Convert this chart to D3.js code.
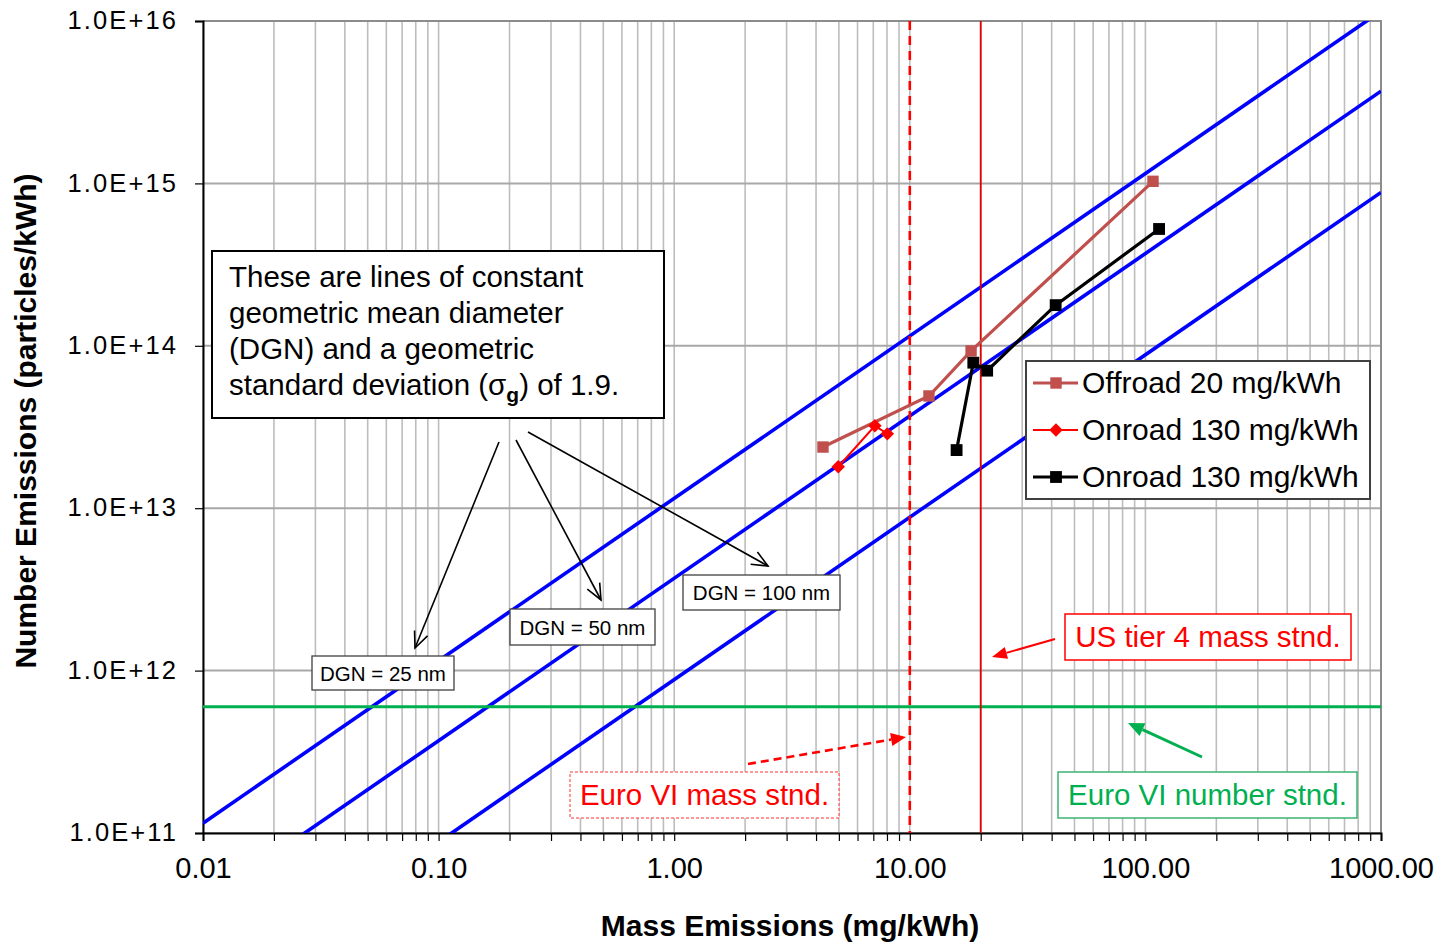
<!DOCTYPE html>
<html><head><meta charset="utf-8">
<script src="https://cdn.jsdelivr.net/npm/d3@7"></script>
<style>
body{margin:0;background:#fff}
text{font-family:"Liberation Sans",Arial,Helvetica,sans-serif}
</style>
</head><body>
<svg id="c" width="1445" height="943"></svg>
<script>
// ---------- DATA ----------
const xTickValues = [0.01, 0.1, 1, 10, 100, 1000];
const xTickLabels = ["0.01", "0.10", "1.00", "10.00", "100.00", "1000.00"];
const yTickValues = [1e11, 1e12, 1e13, 1e14, 1e15, 1e16];
const yTickLabels = ["1.0E+11", "1.0E+12", "1.0E+13", "1.0E+14", "1.0E+15", "1.0E+16"];

const seriesNames = ["Offroad 20 mg/kWh", "Onroad 130 mg/kWh", "Onroad 130 mg/kWh"];
const offroadMass   = [4.28, 12.06, 18.2, 107.7];
const offroadNumber = [2.38e13, 4.91e13, 9.3e13, 1.03e15];
const onroadRedMass   = [4.97, 7.11, 8.03];
const onroadRedNumber = [1.80e13, 3.22e13, 2.87e13];
const onroadBlackMass   = [15.8, 18.6, 21.3, 41.6, 114.3];
const onroadBlackNumber = [2.28e13, 7.87e13, 7.03e13, 1.78e14, 5.24e14];

const dgnLabels = ["DGN = 25 nm", "DGN = 50 nm", "DGN = 100 nm"];
const dgnMassEnds = [0.01, 1000];
const dgn25Number  = [1.15e11, 1.15e16];
const dgn50Number  = [3.7e10, 3.7e15];
const dgn100Number = [8.8e9, 8.8e14];

const euroVIMass = 10;
const usTier4Mass = 20;
const euroVINumber = 6e11;

const noteLines = ["These are lines of constant", "geometric mean diameter", "(DGN) and a geometric"];
const standardLabels = ["US tier 4 mass stnd.", "Euro VI mass stnd.", "Euro VI number stnd."];
const xTitle = "Mass Emissions (mg/kWh)";
const yTitle = "Number Emissions (particles/kWh)";

// ---------- CHART ----------
const svg = d3.select("#c");
const L = 203, R = 1381, T = 21, B = 833;
const x = d3.scaleLog().domain([0.01, 1000]).range([L, R]);
const y = d3.scaleLog().domain([1e11, 1e16]).range([B, T]);

const minorX = [];
for (let e = -2; e < 3; e++) for (let k = 1; k <= 9; k++) minorX.push(k * Math.pow(10, e));
minorX.push(1000);

svg.append("defs").append("clipPath").attr("id", "plotClip")
  .append("rect").attr("x", L).attr("y", T).attr("width", R - L).attr("height", B - T);

// grid
svg.append("g").selectAll("line").data(minorX).join("line")
  .attr("x1", d => x(d)).attr("x2", d => x(d)).attr("y1", T).attr("y2", B)
  .attr("stroke", "#bdbdbd").attr("stroke-width", 1.6);
svg.append("g").selectAll("line").data(yTickValues).join("line")
  .attr("x1", L).attr("x2", R).attr("y1", d => y(d)).attr("y2", d => y(d))
  .attr("stroke", "#a8a8a8").attr("stroke-width", 2);

// border top/right
svg.append("path").attr("d", `M${L},${T}H${R}V${B}`).attr("fill", "none")
  .attr("stroke", "#8c8c8c").attr("stroke-width", 2);

// axes
const xLab = d => { const i = xTickValues.findIndex(v => Math.abs(Math.log10(v) - Math.log10(d)) < 1e-9); return i >= 0 ? xTickLabels[i] : ""; };
const gx = svg.append("g").attr("transform", `translate(0,${B})`)
  .call(d3.axisBottom(x).tickValues(minorX).tickSize(8).tickPadding(16.4).tickFormat(xLab));
gx.select(".domain").attr("stroke", "#000").attr("stroke-width", 2);
gx.selectAll(".tick line").attr("stroke", "#000").attr("stroke-width", 1.2);
gx.selectAll(".tick text").attr("font-size", 29).attr("fill", "#000")
  .attr("font-family", "Liberation Sans, Arial, sans-serif");

const gy = svg.append("g").attr("transform", `translate(${L},0)`)
  .call(d3.axisLeft(y).tickValues(yTickValues).tickSize(8).tickPadding(17)
    .tickFormat(d => yTickLabels[yTickValues.indexOf(d)]));
gy.select(".domain").attr("stroke", "#000").attr("stroke-width", 2);
gy.selectAll(".tick line").attr("stroke", "#000").attr("stroke-width", 1.2);
gy.selectAll(".tick text").attr("font-size", 25.5).attr("letter-spacing", "2.1px").attr("fill", "#000")
  .attr("font-family", "Liberation Sans, Arial, sans-serif").attr("dy", "0.30em");

// titles
svg.append("text").attr("x", 790).attr("y", 936).attr("text-anchor", "middle")
  .attr("font-size", 30).attr("font-weight", "bold").text(xTitle);
svg.append("text").attr("transform", "translate(36,421) rotate(-90)").attr("text-anchor", "middle")
  .attr("font-size", 30).attr("font-weight", "bold").text(yTitle);

const plot = svg.append("g").attr("clip-path", "url(#plotClip)");

// DGN lines
const lineGen = d3.line().x(d => x(d[0])).y(d => y(d[1]));
[dgn25Number, dgn50Number, dgn100Number].forEach(nums => {
  plot.append("path").attr("d", lineGen(dgnMassEnds.map((m, i) => [m, nums[i]])))
    .attr("fill", "none").attr("stroke", "#0000ff").attr("stroke-width", 3.6);
});

// standards
plot.append("line").attr("x1", L).attr("x2", R).attr("y1", y(euroVINumber)).attr("y2", y(euroVINumber))
  .attr("stroke", "#00b050").attr("stroke-width", 3);
plot.append("line").attr("x1", x(euroVIMass)).attr("x2", x(euroVIMass)).attr("y1", T).attr("y2", B)
  .attr("stroke", "#ff0000").attr("stroke-width", 2.6).attr("stroke-dasharray", "9,6");
plot.append("line").attr("x1", x(usTier4Mass)).attr("x2", x(usTier4Mass)).attr("y1", T).attr("y2", B)
  .attr("stroke", "#e00000").attr("stroke-width", 1.8);

// series
function series(mass, num, color, width, shape, size, rot) {
  const pts = mass.map((m, i) => [m, num[i]]);
  plot.append("path").attr("d", lineGen(pts)).attr("fill", "none")
    .attr("stroke", color).attr("stroke-width", width);
  plot.append("g").selectAll("path").data(pts).join("path")
    .attr("transform", d => `translate(${x(d[0])},${y(d[1])}) rotate(${rot || 0})`)
    .attr("d", d3.symbol().type(shape).size(size))
    .attr("fill", color);
}
series(offroadMass, offroadNumber, "#c0504d", 3.2, d3.symbolSquare, 130);
series(onroadRedMass, onroadRedNumber, "#ff0000", 2, d3.symbolSquare, 90, 45);
series(onroadBlackMass, onroadBlackNumber, "#000000", 3.2, d3.symbolSquare, 140);

// arrows
function arrow(x1, y1, x2, y2, o) {
  const a = Math.atan2(y2 - y1, x2 - x1), len = o.size || 14, hw = o.hw || 6;
  const bx = x2 - len * Math.cos(a), by = y2 - len * Math.sin(a);
  const px = -Math.sin(a) * hw, py = Math.cos(a) * hw;
  const ex = o.filled ? bx : x2, ey = o.filled ? by : y2;
  svg.append("line").attr("x1", x1).attr("y1", y1).attr("x2", ex).attr("y2", ey)
    .attr("stroke", o.color).attr("stroke-width", o.width)
    .attr("stroke-dasharray", o.dash || null);
  if (o.filled) {
    svg.append("path").attr("d", `M${x2},${y2}L${bx + px},${by + py}L${bx - px},${by - py}Z`).attr("fill", o.color);
  } else {
    svg.append("path").attr("d", `M${bx + px},${by + py}L${x2},${y2}L${bx - px},${by - py}`)
      .attr("fill", "none").attr("stroke", o.color).attr("stroke-width", o.width);
  }
}
arrow(499, 442, 415, 648, {color: "#000", width: 1.6, size: 16, hw: 7});
arrow(516, 440, 601, 600, {color: "#000", width: 1.6, size: 16, hw: 7});
arrow(528, 432, 768, 566, {color: "#000", width: 1.6, size: 16, hw: 7});
arrow(1055, 639, 992, 657, {color: "#ff0000", width: 2, filled: true, size: 15, hw: 6});
arrow(748, 764, 906, 737, {color: "#ff0000", width: 2.6, dash: "8,5", filled: true, size: 15, hw: 6.5});
arrow(1202, 757, 1128, 723, {color: "#00b050", width: 3, filled: true, size: 16, hw: 7});

// note box
svg.append("rect").attr("x", 212).attr("y", 251).attr("width", 452).attr("height", 167)
  .attr("fill", "#fff").attr("stroke", "#000").attr("stroke-width", 2);
const noteG = svg.append("g").attr("font-size", 29.5).attr("fill", "#000");
noteLines.forEach((s, i) => noteG.append("text").attr("x", 229).attr("y", 287 + i * 36).text(s));
const last = noteG.append("text").attr("x", 229).attr("y", 395);
last.append("tspan").text("standard deviation (\u03c3");
last.append("tspan").attr("font-size", 21).attr("font-weight", "bold").attr("dy", 7).text("g");
last.append("tspan").attr("dy", -7).text(") of 1.9.");

// DGN labels
const dgnBoxes = [[312, 656, 142, 34], [510, 609, 145, 36], [683, 575, 157, 35]];
dgnLabels.forEach((s, i) => {
  const b = dgnBoxes[i];
  svg.append("rect").attr("x", b[0]).attr("y", b[1]).attr("width", b[2]).attr("height", b[3])
    .attr("fill", "#fff").attr("stroke", "#404040").attr("stroke-width", 1.3);
  svg.append("text").attr("x", b[0] + b[2] / 2).attr("y", b[1] + b[3] / 2 + 7.5)
    .attr("text-anchor", "middle").attr("font-size", 20.5).text(s);
});

// standard labels
const stdBoxes = [
  {b: [1065, 614, 286, 46], c: "#ff0000", bc: "#ff0000", dash: null, bw: 1.5},
  {b: [570, 772, 269, 46], c: "#ff0000", bc: "#ff3030", dash: "3,2", bw: 1},
  {b: [1058, 772, 299, 46], c: "#00b050", bc: "#3cb371", dash: null, bw: 1.5}
];
standardLabels.forEach((s, i) => {
  const o = stdBoxes[i], b = o.b;
  svg.append("rect").attr("x", b[0]).attr("y", b[1]).attr("width", b[2]).attr("height", b[3])
    .attr("fill", "#fff").attr("stroke", o.bc).attr("stroke-width", o.bw)
    .attr("stroke-dasharray", o.dash);
  svg.append("text").attr("x", b[0] + b[2] / 2).attr("y", b[1] + 33)
    .attr("text-anchor", "middle").attr("font-size", 29.5).attr("fill", o.c).text(s);
});

// legend
svg.append("rect").attr("x", 1026).attr("y", 361).attr("width", 344).attr("height", 138)
  .attr("fill", "#fff").attr("stroke", "#404040").attr("stroke-width", 2);
const legendStyle = [
  {c: "#c0504d", w: 3.2, s: d3.symbolSquare, z: 130, r: 0},
  {c: "#ff0000", w: 2, s: d3.symbolSquare, z: 90, r: 45},
  {c: "#000000", w: 3.2, s: d3.symbolSquare, z: 140, r: 0}
];
seriesNames.forEach((n, i) => {
  const ly = 383 + i * 47, st = legendStyle[i];
  svg.append("line").attr("x1", 1033).attr("x2", 1078).attr("y1", ly).attr("y2", ly)
    .attr("stroke", st.c).attr("stroke-width", st.w);
  svg.append("path").attr("transform", `translate(1056,${ly}) rotate(${st.r})`)
    .attr("d", d3.symbol().type(st.s).size(st.z)).attr("fill", st.c);
  svg.append("text").attr("x", 1082).attr("y", ly + 10).attr("font-size", 30).text(n);
});
</script>
</body></html>
